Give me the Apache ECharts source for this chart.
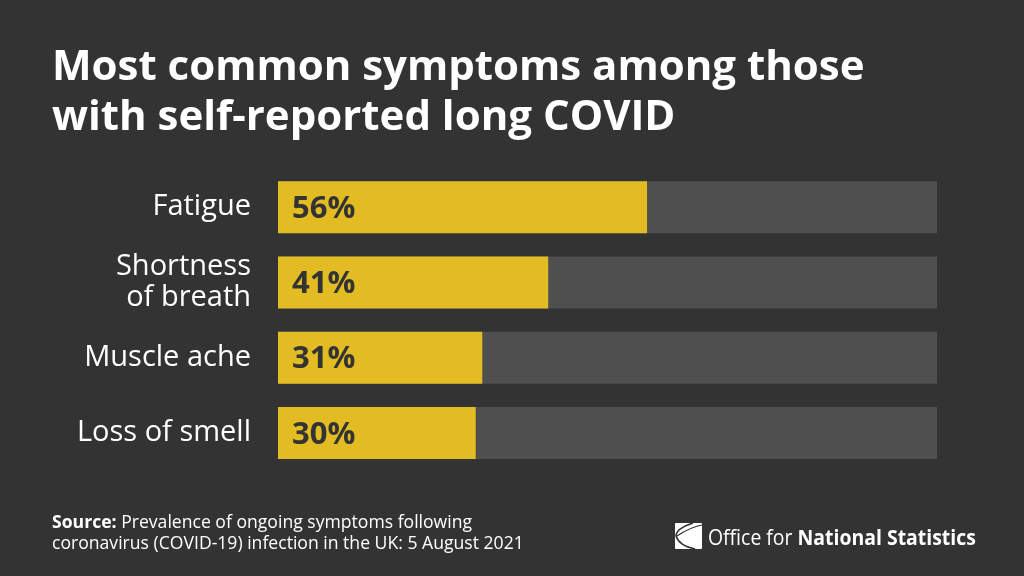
<!DOCTYPE html>
<html>
<head>
<meta charset="utf-8">
<script src="https://cdn.jsdelivr.net/npm/echarts@6/dist/echarts.min.js"></script>
<style>
html,body{margin:0;padding:0;background:#333333;}
#c{width:1024px;height:576px;}
</style>
</head>
<body>
<div id="c"></div>
<script>
var categories = ['Fatigue', 'Shortness\nof breath', 'Muscle ache', 'Loss of smell'];
var values = [56, 41, 31, 30];
var axisMax = 100;

var chart = echarts.init(document.getElementById('c'));
var FONT = '"Open Sans", "Noto Sans", sans-serif';
chart.setOption({
  backgroundColor: '#333333',
  title: {
    text: 'Most common symptoms among those\nwith self-reported long COVID',
    left: 52,
    top: 43,
    padding: 0,
    textStyle: { color: '#ffffff', fontFamily: FONT, fontWeight: 'bold', fontSize: 42, lineHeight: 50 }
  },
  grid: { left: 278, right: 87, top: 169.5, height: 301, containLabel: false },
  xAxis: {
    type: 'value', min: 0, max: axisMax,
    show: false
  },
  yAxis: {
    type: 'category', data: categories, inverse: true,
    axisLine: { show: false }, axisTick: { show: false }, splitLine: { show: false },
    axisLabel: {
      color: '#ffffff', fontFamily: FONT, fontSize: 29, lineHeight: 31, margin: 27, align: 'right'
    }
  },
  series: [{
    type: 'bar',
    data: values,
    barWidth: 52,
    showBackground: true,
    backgroundStyle: { color: '#4f4f4f' },
    itemStyle: { color: '#e2bc22' },
    label: {
      show: true, position: 'insideLeft', distance: 14, offset: [0, 2],
      formatter: '{c}%',
      color: '#333333', fontFamily: FONT, fontWeight: 'bold', fontSize: 31
    },
    animation: false
  }],
  animation: false,
  graphic: [
    {
      type: 'text', x: 52, y: 512,
      style: {
        text: '{b|Source:} Prevalence of ongoing symptoms following\ncoronavirus (COVID-19) infection in the UK: 5 August 2021',
        fill: '#ffffff', font: '17.6px ' + FONT, lineHeight: 21,
        rich: { b: { fontWeight: 'bold', fontSize: 17.6, fontFamily: FONT, fill: '#ffffff', lineHeight: 21 } }
      }
    },
    {
      type: 'rect', x: 675, y: 523, shape: { x: 0, y: 0, width: 27, height: 26, r: 1 }, style: { fill: '#ffffff' }
    },
    {
      type: 'bezierCurve', x: 675, y: 523,
      shape: { x1: 18, y1: 0, cpx1: 6, cpy1: 4, cpx2: 1, cpy2: 9, x2: 1, y2: 13 },
      style: { fill: 'none', stroke: '#333333', lineWidth: 1.6 }
    },
    {
      type: 'bezierCurve', x: 675, y: 523,
      shape: { x1: 1, y1: 13, cpx1: 3, cpy1: 19, cpx2: 10, cpy2: 24, x2: 20, y2: 26 },
      style: { fill: 'none', stroke: '#333333', lineWidth: 1.6 }
    },
    {
      type: 'bezierCurve', x: 675, y: 523,
      shape: { x1: 27, y1: 2, cpx1: 16, cpy1: 4, cpx2: 8, cpy2: 9, x2: 2, y2: 13 },
      style: { fill: 'none', stroke: '#333333', lineWidth: 1.2 }
    },
    {
      type: 'text', x: 708, y: 528, scaleX: 0.883,
      style: {
        text: 'Office for {b|National Statistics}',
        fill: '#ffffff', font: '22px ' + FONT,
        rich: { b: { fontWeight: 'bold', fontSize: 22, fontFamily: FONT, fill: '#ffffff' } }
      }
    }
  ]
});
</script>
</body>
</html>
